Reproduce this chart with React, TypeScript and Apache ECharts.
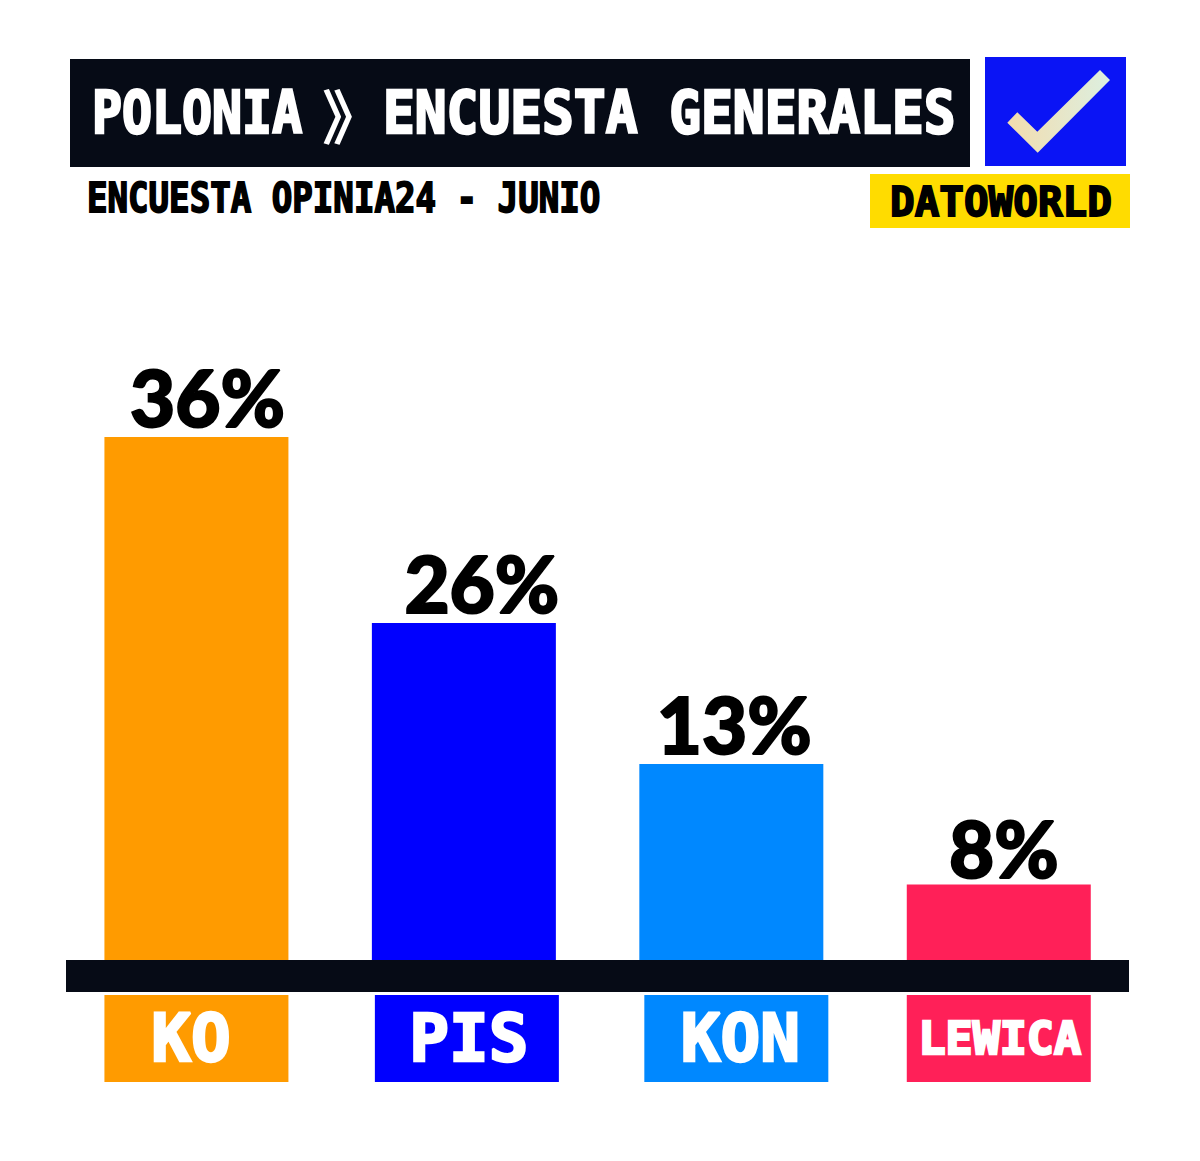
import React, { useEffect, useRef } from "react";
import * as echarts from "echarts";

const categories = ["KO", "PIS", "KON", "LEWICA"];
// Printed percentages
const printedValues = [36, 26, 13, 8];
// Bar lengths as drawn in the picture (they are not proportional to the printed values)
const drawnLengths = [36, 23.2, 13.5, 5.2];
const barColors = ["#ff9b00", "#0000ff", "#0088ff", "#ff2058"];
const titleCountry = "POLONIA";
const titleChevron = "》";
const titleRest = "ENCUESTA GENERALES";
const subtitleText = "ENCUESTA OPINIA24 - JUNIO";
const brandText = "DATOWORLD";

const INK = "#060b16";
const DISPLAY = '"DejaVu Sans Mono", monospace';

const labelOffsets = [[11, -1], [18, -1], [3, -1], [5, 3]];
const boxShift = [0, 6, 10, 0];

function tok(color: string, size: number, padL: number, padR: number) {
  return {
    backgroundColor: color,
    color: "#ffffff",
    fontFamily: DISPLAY,
    fontWeight: "bold",
    fontSize: size,
    width: 184 - padL - padR,
    height: 87,
    lineHeight: 87,
    align: "center",
    padding: [0, padR, 0, padL],
    textBorderColor: "#ffffff",
    textBorderWidth: 2.5,
  };
}

export default function App() {
  const ref = useRef<HTMLDivElement>(null);
  useEffect(() => {
    document.body.style.margin = "0";
    const chart = echarts.init(ref.current!, undefined, { renderer: "svg" });
    const text = (s: string, x: number, y: number, sx: number, size: number, fill: string, weight = 2, fam = DISPLAY) => ({
      type: "text", x, y, scaleX: sx, scaleY: 1, z: 20,
      style: { text: s, font: `bold ${size}px ${fam}`, fill, stroke: fill, lineWidth: weight, textVerticalAlign: "middle" },
    });
    chart.setOption({
      animation: false,
      backgroundColor: "#ffffff",
      grid: { left: 62.7, width: 1069.8, top: 379, height: 581, containLabel: false },
      xAxis: {
        type: "category",
        data: categories.map((c, i) => ({ value: c, textStyle: { padding: [0, 0, 0, boxShift[i]] } })),
        axisLine: { show: false },
        axisTick: { show: false },
        axisLabel: {
          margin: 35,
          interval: 0,
          formatter: (v: string) => `{${v}|${v}}`,
          rich: {
            KO: tok(barColors[0], 66, 0, 11),
            PIS: tok(barColors[1], 66, 4, 0),
            KON: tok(barColors[2], 66, 8, 0),
            LEWICA: tok(barColors[3], 45, 2, 0),
          },
        },
      },
      yAxis: { type: "value", min: 0, max: 40, show: false },
      series: [
        {
          type: "bar",
          barWidth: 184,
          data: drawnLengths.map((v, i) => ({
            value: v,
            itemStyle: { color: barColors[i] },
            label: { offset: labelOffsets[i] },
          })),
          label: {
            show: true,
            position: "top",
            distance: 0,
            color: "#000000",
            fontFamily: "Lato",
            fontWeight: 900,
            fontSize: 78,
            textBorderColor: "#000000",
            textBorderWidth: 2,
            formatter: (p: any) => `${printedValues[p.dataIndex]}%`,
          },
        },
      ],
      graphic: [
        { type: "rect", shape: { x: 70, y: 59, width: 900, height: 108 }, style: { fill: INK } },
        { type: "rect", shape: { x: 985, y: 57, width: 141, height: 109 }, style: { fill: "#0a14f5" } },
        {
          type: "polygon",
          shape: { points: [[1100, 70], [1110, 80], [1037.7, 152.7], [1007.3, 122.7], [1017.3, 112.3], [1037.3, 131.7]] },
          style: {
            fill: new echarts.graphic.LinearGradient(0, 0, 1, 0, [
              { offset: 0, color: "#f3dcae" },
              { offset: 1, color: "#dcefe0" },
            ]),
          },
        },
        { type: "rect", shape: { x: 870, y: 174, width: 260, height: 54 }, style: { fill: "#ffdc00" } },
        { type: "rect", z: 10, shape: { x: 66, y: 960, width: 1063, height: 32 }, style: { fill: INK } },
        text(titleCountry, 92, 113, 0.86, 58, "#ffffff", 2.5),
        text(titleChevron, 322, 113, 1.05, 59, "#ffffff", 0, '"Noto Sans CJK SC"'),
        text(titleRest, 383, 113, 0.911, 58, "#ffffff", 2.5),
        text(subtitleText, 87, 198, 0.853, 40, "#000000", 1.8),
        text(brandText, 890, 202, 0.987, 41.5, "#000000", 1.8),
      ],
    });
    return () => chart.dispose();
  }, []);
  return <div ref={ref} style={{ width: 1200, height: 1161 }} />;
}
